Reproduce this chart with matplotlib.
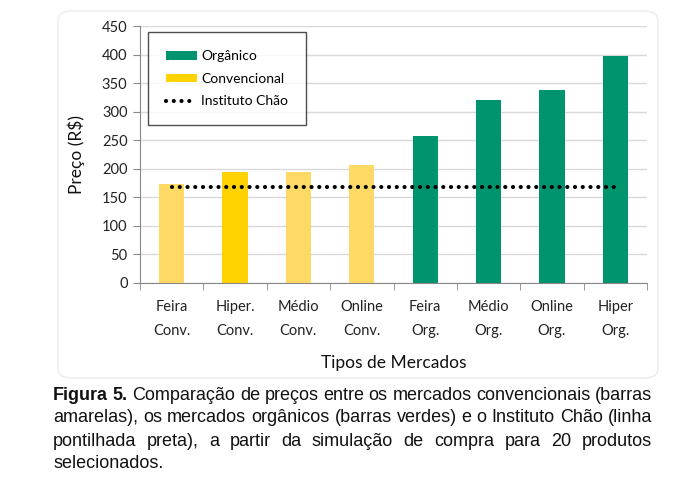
import matplotlib
matplotlib.use("Agg")
import matplotlib.pyplot as plt
from matplotlib.patches import Patch, FancyBboxPatch
from matplotlib.lines import Line2D

# data
categorias = ["Feira\nConv.", "Hiper.\nConv.", "Médio\nConv.", "Online\nConv.",
              "Feira\nOrg.", "Médio\nOrg.", "Online\nOrg.", "Hiper\nOrg."]
precos = [173, 195, 195, 206, 258, 320, 338, 398]
cores = ["#FFD966", "#FFD200", "#FFD966", "#FFD966",
         "#00946E", "#00946E", "#00946E", "#00946E"]
instituto_chao = 168
yticks = [0, 50, 100, 150, 200, 250, 300, 350, 400, 450]

plt.rcParams['font.family'] = ['Lato', 'DejaVu Sans']

fig = plt.figure(figsize=(6.88, 4.91), dpi=100)

# faint rounded frame around the chart
frame = FancyBboxPatch((58 / 688, 1 - 378 / 491), (658 - 58) / 688, (378 - 11) / 491,
                       boxstyle="round,pad=0,rounding_size=0.02",
                       transform=fig.transFigure, fill=False,
                       edgecolor="#EBEBEB", linewidth=1)
fig.patches.append(frame)

ax = fig.add_axes([140 / 688, 1 - 283 / 491, 507 / 688, 257 / 491])
x = list(range(len(categorias)))
ax.bar(x, precos, width=0.4, color=cores, zorder=2)
ax.plot([x[0], x[-1]], [instituto_chao, instituto_chao], color="black",
        linewidth=3, linestyle=(0, (0.01, 1.85)), dash_capstyle="round", zorder=3)

ax.set_xlim(-0.5, len(categorias) - 0.5)
ax.set_ylim(0, 450)
ax.set_yticks(yticks)
ax.yaxis.grid(True, color="#D9D9D9", linewidth=1, zorder=0)
ax.set_axisbelow(True)

ax.set_xticks(x)
ax.set_xticklabels(categorias, fontsize=10.5, color="#222222", linespacing=1.95)
ax.set_xticks([i - 0.5 for i in range(len(categorias) + 1)], minor=True)
ax.tick_params(axis="x", which="major", length=0, pad=12)
ax.tick_params(axis="x", which="minor", length=5, color="#888888")
ax.tick_params(axis="y", length=5, color="#888888", labelsize=10.5,
               labelcolor="#222222", pad=4)

for s in ["top", "right"]:
    ax.spines[s].set_visible(False)
for s in ["left", "bottom"]:
    ax.spines[s].set_color("#888888")

ax.set_ylabel("Preço (R$)", fontsize=12.5, labelpad=12, color="#111111")
ax.set_xlabel("Tipos de Mercados", fontsize=12.5, labelpad=12, color="#111111")

handles = [Patch(facecolor="#00946E"),
           Patch(facecolor="#FFD200"),
           Line2D([0], [0], color="black", linewidth=3,
                  linestyle=(0, (0.01, 1.85)), dash_capstyle="round")]
leg = ax.legend(handles, ["Orgânico", "Convencional", "Instituto Chão"],
                loc="upper left", bbox_to_anchor=(0.016, 0.975), fontsize=10,
                frameon=True, fancybox=False, edgecolor="#222222",
                handlelength=2.2, handleheight=0.55, labelspacing=0.75,
                handletextpad=0.3, borderpad=1.3, borderaxespad=0)
leg.get_frame().set_linewidth(1)

# justified caption
caption_lines = [
    ["Figura", "5.", "Comparação", "de", "preços", "entre", "os", "mercados", "convencionais", "(barras"],
    ["amarelas),", "os", "mercados", "orgânicos", "(barras", "verdes)", "e", "o", "Instituto", "Chão", "(linha"],
    ["pontilhada", "preta),", "a", "partir", "da", "simulação", "de", "compra", "para", "20", "produtos"],
    ["selecionados."],
]
left_px, right_px = 53, 652
line_y = [395, 418, 441, 463]
fig.canvas.draw()
renderer = fig.canvas.get_renderer()
for li, words in enumerate(caption_lines):
    texts = []
    for wi, w in enumerate(words):
        bold = li == 0 and wi < 2
        t = fig.text(0, 1 - line_y[li] / 491, w, fontsize=13, va="center", ha="left",
                     family="Liberation Sans", weight="bold" if bold else "normal",
                     color="#111111")
        texts.append(t)
    widths = [t.get_window_extent(renderer).width for t in texts]
    if li < len(caption_lines) - 1:
        gap = (right_px - left_px - sum(widths)) / (len(words) - 1)
    else:
        gap = 4
    xpos = left_px
    for t, w in zip(texts, widths):
        t.set_x(xpos / 688)
        xpos += w + gap

fig.savefig("out.png", dpi=100)
